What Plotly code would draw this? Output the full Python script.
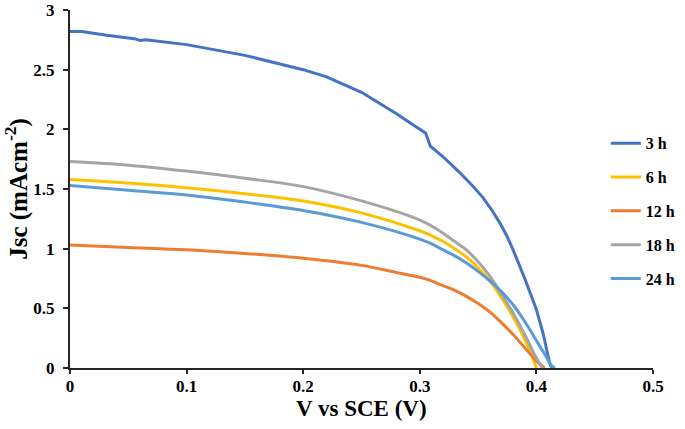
import plotly.graph_objects as go

v_3h = [0.0, 0.01, 0.03, 0.05, 0.055, 0.06, 0.065, 0.1, 0.15, 0.2, 0.22, 0.25, 0.28, 0.297, 0.305, 0.309,
        0.32, 0.334, 0.345, 0.354, 0.362, 0.369, 0.375, 0.38, 0.39, 0.40, 0.406, 0.410, 0.412, 0.414]
j_3h = [2.82, 2.82, 2.79, 2.77, 2.76, 2.745, 2.75, 2.71, 2.62, 2.50, 2.44, 2.31, 2.13, 2.02, 1.97, 1.86,
        1.77, 1.64, 1.53, 1.43, 1.32, 1.21, 1.10, 0.99, 0.75, 0.49, 0.28, 0.10, 0.02, 0.0]

v_6h = [0.0, 0.05, 0.1, 0.15, 0.2, 0.25, 0.3, 0.31, 0.32, 0.33, 0.34, 0.35, 0.36, 0.37, 0.38, 0.39, 0.395, 0.40]
j_6h = [1.58, 1.55, 1.51, 1.46, 1.40, 1.30, 1.15, 1.11, 1.06, 1.00, 0.93, 0.84, 0.73, 0.59, 0.43, 0.24, 0.13, 0.0]

v_12h = [0.0, 0.05, 0.1, 0.15, 0.2, 0.25, 0.28, 0.3, 0.31, 0.32, 0.33, 0.34, 0.35, 0.36, 0.37, 0.38, 0.39, 0.40, 0.407]
j_12h = [1.03, 1.01, 0.99, 0.96, 0.92, 0.86, 0.80, 0.76, 0.73, 0.69, 0.65, 0.60, 0.54, 0.47, 0.38, 0.28, 0.17, 0.06, 0.0]

v_18h = [0.0, 0.05, 0.1, 0.15, 0.2, 0.25, 0.3, 0.31, 0.32, 0.33, 0.34, 0.35, 0.36, 0.37, 0.38, 0.39, 0.398, 0.405]
j_18h = [1.73, 1.70, 1.65, 1.59, 1.52, 1.40, 1.24, 1.19, 1.13, 1.06, 0.99, 0.89, 0.77, 0.62, 0.46, 0.28, 0.12, 0.0]

v_24h = [0.0, 0.05, 0.1, 0.15, 0.2, 0.25, 0.3, 0.31, 0.32, 0.33, 0.34, 0.35, 0.36, 0.37, 0.38, 0.39, 0.40, 0.408, 0.413, 0.416]
j_24h = [1.53, 1.49, 1.45, 1.39, 1.32, 1.22, 1.08, 1.04, 0.99, 0.94, 0.88, 0.81, 0.73, 0.64, 0.53, 0.39, 0.23, 0.10, 0.02, 0.0]

names = ["3 h", "6 h", "12 h", "18 h", "24 h"]
colors = ["#4472C4", "#FFC000", "#ED7D31", "#A5A5A5", "#5B9BD5"]
series = [(v_3h, j_3h), (v_6h, j_6h), (v_12h, j_12h), (v_18h, j_18h), (v_24h, j_24h)]

x_ticks = [0, 0.1, 0.2, 0.3, 0.4, 0.5]
x_labels = ["0", "0.1", "0.2", "0.3", "0.4", "0.5"]
y_ticks = [0, 0.5, 1, 1.5, 2, 2.5, 3]
y_labels = ["0", "0.5", "1", "1.5", "2", "2.5", "3"]

font = "Liberation Serif, Times New Roman, serif"

fig = go.Figure()
for i, ((vx, jy), n, c) in enumerate(zip(series, names, colors)):
    shape = "linear" if i == 0 else "spline"
    fig.add_trace(go.Scatter(x=vx, y=jy, mode="lines", name=n, legendgroup=n,
                             line=dict(color=c, width=3, shape=shape, smoothing=1.0)))

fig.update_layout(
    width=685, height=429,
    margin=dict(l=70, r=32, t=10, b=61, autoexpand=False),
    paper_bgcolor="white", plot_bgcolor="white",
    font=dict(family=font, color="black"),
    legend=dict(x=0.919, y=0.439, xanchor="left", yanchor="middle",
                font=dict(family=font, size=16, color="black", weight="bold"),
                traceorder="grouped", tracegroupgap=10,
                bgcolor="rgba(0,0,0,0)", itemwidth=30),
    xaxis=dict(range=[0, 0.5], tickvals=x_ticks, ticktext=x_labels, automargin=False,
               showline=True, linecolor="#262626", linewidth=2,
               ticks="outside", ticklen=4, tickcolor="#262626", tickwidth=1.5,
               ticklabelstandoff=-2,
               showgrid=False, zeroline=False,
               tickfont=dict(family=font, size=17, color="black", weight="bold")),
    yaxis=dict(range=[0, 3], tickvals=y_ticks, ticktext=y_labels, automargin=False,
               showline=True, linecolor="#262626", linewidth=2,
               ticks="outside", ticklen=5, tickcolor="#262626", tickwidth=1.5,
               ticklabelstandoff=5,
               showgrid=False, zeroline=False,
               tickfont=dict(family=font, size=17, color="black", weight="bold"),
               title=dict(text="Jsc (mAcm<sup>-2</sup>)", font=dict(family=font, size=25, color="black", weight="bold"),
                          standoff=14)),
    annotations=[dict(text="V vs SCE (V)", xref="paper", yref="paper", x=0.5, y=0,
                      xanchor="center", yanchor="middle", yshift=-40, showarrow=False,
                      font=dict(family=font, size=23, color="black", weight="bold"))],
)

fig.write_html("out.html", post_script="document.body.style.margin='0';",
               config={"displayModeBar": False})
